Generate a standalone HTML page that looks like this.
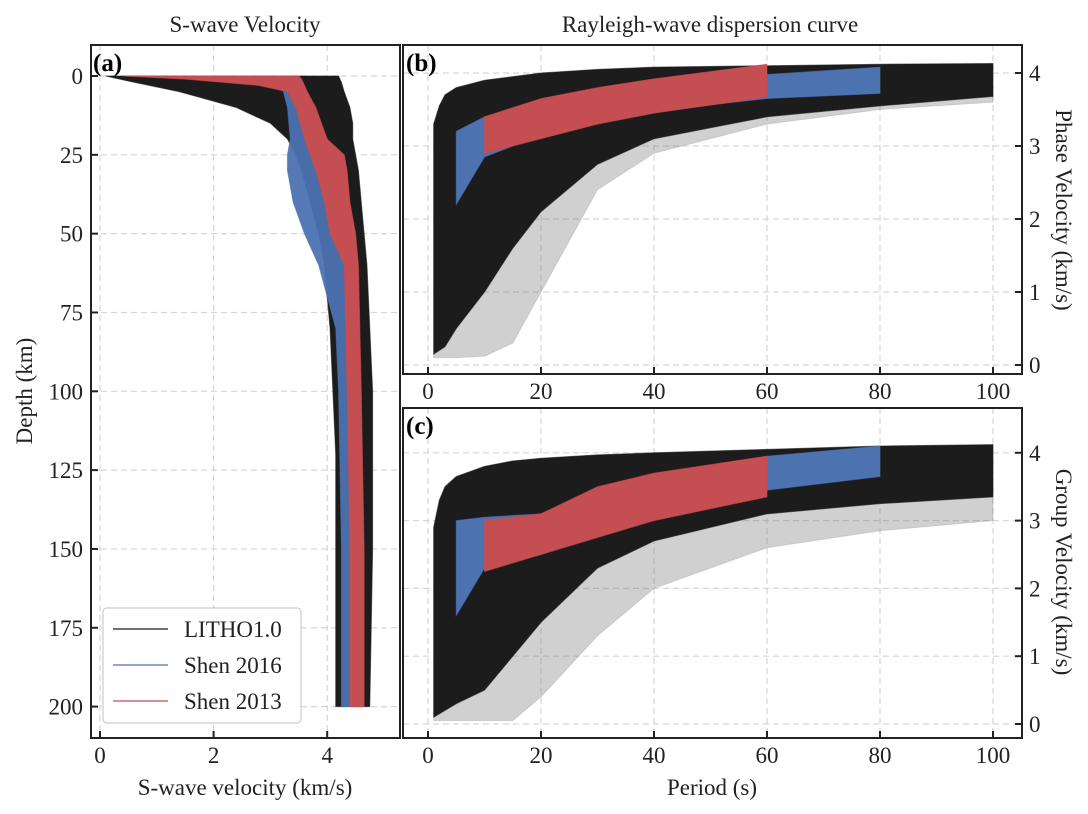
<!DOCTYPE html>
<html><head><meta charset="utf-8">
<style>
html,body{margin:0;padding:0;background:#fff;}
svg{display:block;font-family:"Liberation Serif",serif;}
</style></head>
<body>
<svg id="fig" width="1088" height="814" viewBox="0 0 1088 814" xmlns="http://www.w3.org/2000/svg"></svg>
<script>
// ---------- DATA ----------
const aDepth = [0, 2, 5, 10, 15, 20, 25, 30, 40, 50, 60, 80, 100, 120, 150, 200];
const lithoLow = [0.1, 0.6, 1.4, 2.4, 3.0, 3.3, 3.45, 3.55, 3.7, 3.85, 3.95, 4.05, 4.1, 4.15, 4.15, 4.15];
const lithoHigh = [4.2, 4.25, 4.3, 4.4, 4.45, 4.45, 4.5, 4.55, 4.6, 4.65, 4.7, 4.75, 4.8, 4.8, 4.8, 4.75];
const shen16Depth = [3, 10, 20, 25, 30, 40, 50, 60, 80, 100, 150, 200];
const shen16Low = [3.2, 3.3, 3.35, 3.3, 3.3, 3.4, 3.6, 3.85, 4.15, 4.2, 4.25, 4.25];
const shen16High = [3.6, 3.7, 3.9, 4.0, 4.1, 4.3, 4.4, 4.5, 4.55, 4.55, 4.6, 4.6];
const shen13Depth = [0, 1, 3, 5, 10, 20, 25, 30, 40, 50, 60, 100, 150, 200];
const shen13Low = [0.4, 1.5, 2.8, 3.3, 3.45, 3.6, 3.7, 3.8, 3.95, 4.05, 4.3, 4.35, 4.4, 4.4];
const shen13High = [3.5, 3.55, 3.6, 3.65, 3.8, 4.0, 4.3, 4.35, 4.4, 4.5, 4.55, 4.6, 4.65, 4.65];
const bPeriod = [1, 2, 3, 5, 10, 15, 20, 30, 40, 60, 80, 100];
const bLithoLow = [0.15, 0.2, 0.25, 0.5, 1.0, 1.6, 2.1, 2.75, 3.1, 3.4, 3.55, 3.68];
const bLithoHigh = [3.3, 3.55, 3.7, 3.8, 3.9, 3.95, 4.0, 4.05, 4.08, 4.1, 4.12, 4.13];
const bLithoFaint = [0.1, 0.1, 0.1, 0.1, 0.12, 0.3, 1.0, 2.4, 2.9, 3.3, 3.5, 3.6];
const bShen16Period = [5, 10, 20, 30, 40, 60, 80];
const bShen16Low = [2.2, 2.85, 3.15, 3.35, 3.48, 3.65, 3.72];
const bShen16High = [3.2, 3.4, 3.6, 3.72, 3.82, 3.98, 4.08];
const bShen13Period = [10, 20, 30, 40, 60];
const bShen13Low = [2.9, 3.1, 3.3, 3.45, 3.67];
const bShen13High = [3.4, 3.65, 3.8, 3.92, 4.12];
const cPeriod = [1, 2, 3, 5, 10, 15, 20, 30, 40, 60, 80, 100];
const cLithoLow = [0.1, 0.15, 0.2, 0.3, 0.5, 1.0, 1.5, 2.3, 2.7, 3.1, 3.25, 3.35];
const cLithoHigh = [2.9, 3.3, 3.5, 3.65, 3.8, 3.88, 3.92, 3.97, 4.0, 4.05, 4.1, 4.12];
const cLithoFaint = [0.05, 0.05, 0.05, 0.05, 0.05, 0.05, 0.4, 1.3, 2.0, 2.6, 2.85, 3.0];
const cShen16Period = [5, 10, 20, 30, 40, 60, 80];
const cShen16Low = [1.6, 2.3, 2.5, 2.8, 3.1, 3.45, 3.65];
const cShen16High = [3.0, 3.05, 3.1, 3.45, 3.65, 3.95, 4.1];
const cShen13Period = [10, 20, 30, 40, 60];
const cShen13Low = [2.25, 2.5, 2.75, 3.0, 3.35];
const cShen13High = [3.0, 3.1, 3.5, 3.7, 3.95];
const aXTicks = [0, 2, 4];
const aYTicks = [0, 25, 50, 75, 100, 125, 150, 175, 200];
const pTicks = [0, 20, 40, 60, 80, 100];
const vTicks = [0, 1, 2, 3, 4];
const legendLabels = ["LITHO1.0", "Shen 2016", "Shen 2013"];

// ---------- DRAW ----------
const NS = "http://www.w3.org/2000/svg";
const svg = document.getElementById("fig");
function mk(tag, attrs, parent) {
  const e = document.createElementNS(NS, tag);
  for (const k in attrs) e.setAttribute(k, attrs[k]);
  (parent || svg).appendChild(e);
  return e;
}
const BLACK = "#1c1c1c", BLUE = "#4c72b0", RED = "#c44e52";
const TS = 23, LS = 23;

const ax = { sx: v => 100 + v * 56.8, sy: d => 76 + d * 3.153, x0: 91, x1: 400, y0: 45, y1: 738 };
const bx = { sx: p => 428 + p * 5.65, sy: v => 365 - v * 73, x0: 403, x1: 1022, y0: 45, y1: 374 };
const cx = { sx: p => 428 + p * 5.65, sy: v => 724 - v * 67.8, x0: 403, x1: 1022, y0: 408, y1: 738 };

function clip(id, a) {
  const cp = mk("clipPath", { id: id });
  mk("rect", { x: a.x0, y: a.y0, width: a.x1 - a.x0, height: a.y1 - a.y0 }, cp);
}
clip("clipA", ax); clip("clipB", bx); clip("clipC", cx);

function grid(a, xs, ys, name) {
  const g = mk("g", { stroke: "#d6d6d6", "stroke-width": 1.2, "stroke-dasharray": "6,4" });
  
  
  xs.forEach(v => mk("line", { x1: a.sx(v), x2: a.sx(v), y1: a.y0, y2: a.y1 }, g));
  ys.forEach(v => mk("line", { x1: a.x0, x2: a.x1, y1: a.sy(v), y2: a.sy(v) }, g));
}
grid(ax, aXTicks, aYTicks, "grid-a");
grid(bx, pTicks, vTicks, "grid-b");
grid(cx, pTicks, vTicks, "grid-c");

function bandA(depth, lo, hi, color, op, name) {
  const pts = [];
  for (let i = 0; i < depth.length; i++) pts.push(ax.sx(hi[i]) + "," + ax.sy(depth[i]));
  for (let i = depth.length - 1; i >= 0; i--) pts.push(ax.sx(lo[i]) + "," + ax.sy(depth[i]));
  const p = mk("polygon", { points: pts.join(" "), fill: color, "fill-opacity": op, stroke: color, "stroke-width": 1, "stroke-opacity": op * 0.6, "clip-path": "url(#clipA)" });
  
  
}
function bandP(a, per, lo, hi, color, op, name, cl) {
  const pts = [];
  for (let i = 0; i < per.length; i++) pts.push(a.sx(per[i]) + "," + a.sy(hi[i]));
  for (let i = per.length - 1; i >= 0; i--) pts.push(a.sx(per[i]) + "," + a.sy(lo[i]));
  const p = mk("polygon", { points: pts.join(" "), fill: color, "fill-opacity": op, stroke: color, "stroke-width": 1, "stroke-opacity": op * 0.6, "clip-path": "url(" + cl + ")" });
  
  
}

bandA(aDepth, lithoLow, lithoHigh, BLACK, 1, "litho-band-a");
bandA(shen16Depth, shen16Low, shen16High, BLUE, 0.95, "shen2016-band-a");
bandA(shen13Depth, shen13Low, shen13High, RED, 1, "shen2013-band-a");

bandP(bx, bPeriod, bLithoFaint, bLithoLow, "#777", 0.35, "litho-faint-b", "#clipB");
bandP(bx, bPeriod, bLithoLow, bLithoHigh, BLACK, 1, "litho-band-b", "#clipB");
bandP(bx, bShen16Period, bShen16Low, bShen16High, BLUE, 1, "shen2016-band-b", "#clipB");
bandP(bx, bShen13Period, bShen13Low, bShen13High, RED, 1, "shen2013-band-b", "#clipB");

bandP(cx, cPeriod, cLithoFaint, cLithoLow, "#777", 0.35, "litho-faint-c", "#clipC");
bandP(cx, cPeriod, cLithoLow, cLithoHigh, BLACK, 1, "litho-band-c", "#clipC");
bandP(cx, cShen16Period, cShen16Low, cShen16High, BLUE, 1, "shen2016-band-c", "#clipC");
bandP(cx, cShen13Period, cShen13Low, cShen13High, RED, 1, "shen2013-band-c", "#clipC");

function frame(a, name) {
  const r = mk("rect", { x: a.x0, y: a.y0, width: a.x1 - a.x0, height: a.y1 - a.y0, fill: "none", stroke: "#222", "stroke-width": 2 });
  
  
}
frame(ax, "frame-a"); frame(bx, "frame-b"); frame(cx, "frame-c");

function txt(x, y, s, size, anchor, name, extra) {
  const t = mk("text", Object.assign({ x: x, y: y, "font-size": size, "text-anchor": anchor || "middle", fill: "#222" }, extra || {}));
  t.textContent = s;
  
  
  return t;
}

aXTicks.forEach(v => {
  mk("line", { x1: ax.sx(v), x2: ax.sx(v), y1: ax.y1, y2: ax.y1 - 7, stroke: "#222", "stroke-width": 2 });
  txt(ax.sx(v), 763, String(v), TS, "middle", "x-tick-a");
});
aYTicks.forEach(v => {
  mk("line", { x1: ax.x0, x2: ax.x0 + 7, y1: ax.sy(v), y2: ax.sy(v), stroke: "#222", "stroke-width": 2 });
  txt(83, ax.sy(v) + 8, String(v), TS, "end", "y-tick-a");
});
[[bx, 399, "b"], [cx, 763, "c"]].forEach(([a, ly, n]) => {
  pTicks.forEach(v => {
    mk("line", { x1: a.sx(v), x2: a.sx(v), y1: a.y1, y2: a.y1 - 7, stroke: "#222", "stroke-width": 2 });
    txt(a.sx(v), ly, String(v), TS, "middle", "x-tick-" + n);
  });
  vTicks.forEach(v => {
    mk("line", { x1: a.x1, x2: a.x1 - 7, y1: a.sy(v), y2: a.sy(v), stroke: "#222", "stroke-width": 2 });
    txt(1029, a.sy(v) + 8, String(v), TS, "start", "y-tick-" + n);
  });
});

txt(245, 32, "S-wave Velocity", LS, "middle", "title-a");
txt(710, 32, "Rayleigh-wave dispersion curve", LS, "middle", "title-b");
txt(245, 795, "S-wave velocity (km/s)", LS, "middle", "x-axis-title-a");
txt(712, 795, "Period (s)", LS, "middle", "x-axis-title-c");
txt(32, 391, "Depth (km)", LS, "middle", "y-axis-title-a", { transform: "rotate(-90 32 391)" });
txt(1056, 210, "Phase Velocity (km/s)", LS, "middle", "y-axis-title-b", { transform: "rotate(90 1056 210)" });
txt(1056, 572, "Group Velocity (km/s)", LS, "middle", "y-axis-title-c", { transform: "rotate(90 1056 572)" });
txt(93, 71, "(a)", 25, "start", "panel-label-a", { "font-weight": "bold", fill: "#000" });
txt(406, 71, "(b)", 25, "start", "panel-label-b", { "font-weight": "bold", fill: "#000" });
txt(406, 434, "(c)", 25, "start", "panel-label-c", { "font-weight": "bold", fill: "#000" });

const lg = mk("g", {});


mk("rect", { x: 103, y: 608, width: 198, height: 115, rx: 4, fill: "#fff", "fill-opacity": 0.9, stroke: "#ccc", "stroke-width": 1.2 }, lg);
[BLACK, BLUE, RED].forEach((c, i) => {
  const y = 629 + i * 36;
  const ln = mk("line", { x1: 113, x2: 168, y1: y, y2: y, stroke: c, "stroke-width": 1.3 }, lg);
  
  
  const t = mk("text", { x: 184, y: y + 8, "font-size": LS, fill: "#222" }, lg);
  t.textContent = legendLabels[i];
  
  
});
</script>
</body></html>
